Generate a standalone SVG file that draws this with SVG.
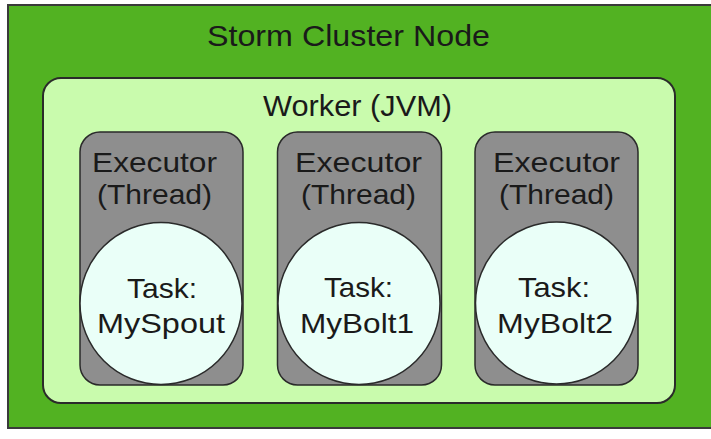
<svg xmlns="http://www.w3.org/2000/svg" width="711" height="439" viewBox="0 0 711 439">
<style>
text{font-family:"Liberation Sans",Arial,sans-serif;fill:#1a1a1a;text-anchor:middle}
.outer{fill:#52b222;stroke:#3a3a3a;stroke-width:2}
.worker{fill:#c9fbad;stroke:#2a2a2a;stroke-width:2}
.exec{fill:#8e8e8e;stroke:#2a2a2a;stroke-width:1.5}
.task{fill:#eafff8;stroke:#2a2a2a;stroke-width:1.5}
.t28{font-size:28px}
</style>
<rect width="711" height="439" fill="#ffffff"/>
<g id="cluster">
<rect class="outer" x="8" y="5" width="712" height="423"/>
<text x="348.5" y="46" font-size="30" textLength="283" lengthAdjust="spacingAndGlyphs">Storm Cluster Node</text>
</g>
<g id="worker">
<rect class="worker" x="43" y="78" width="632" height="325" rx="18"/>
<text x="357.5" y="116" font-size="29" textLength="189" lengthAdjust="spacingAndGlyphs">Worker (JVM)</text>
</g>
<g id="executor1">
<rect class="exec" x="80" y="132" width="163" height="253" rx="20"/>
<text class="t28" x="154.5" y="172" textLength="125" lengthAdjust="spacingAndGlyphs">Executor</text>
<text class="t28" x="154.5" y="204" textLength="115" lengthAdjust="spacingAndGlyphs">(Thread)</text>
</g>
<g id="executor2">
<rect class="exec" x="277.5" y="132" width="164" height="253" rx="20"/>
<text class="t28" x="358.5" y="172" textLength="127" lengthAdjust="spacingAndGlyphs">Executor</text>
<text class="t28" x="358.5" y="204" textLength="115" lengthAdjust="spacingAndGlyphs">(Thread)</text>
</g>
<g id="executor3">
<rect class="exec" x="475" y="132" width="163" height="253" rx="20"/>
<text class="t28" x="556.5" y="172" textLength="127" lengthAdjust="spacingAndGlyphs">Executor</text>
<text class="t28" x="556.5" y="204" textLength="115" lengthAdjust="spacingAndGlyphs">(Thread)</text>
</g>
<g id="task1">
<circle class="task" cx="161" cy="303.5" r="81"/>
<text class="t28" x="162" y="298" textLength="70" lengthAdjust="spacingAndGlyphs">Task:</text>
<text class="t28" x="161" y="333" textLength="128" lengthAdjust="spacingAndGlyphs">MySpout</text>
</g>
<g id="task2">
<circle class="task" cx="359" cy="303.5" r="81"/>
<text class="t28" x="358.5" y="297" textLength="69" lengthAdjust="spacingAndGlyphs">Task:</text>
<text class="t28" x="357" y="333" textLength="114" lengthAdjust="spacingAndGlyphs">MyBolt1</text>
</g>
<g id="task3">
<circle class="task" cx="556.5" cy="303" r="81"/>
<text class="t28" x="554" y="297" textLength="72" lengthAdjust="spacingAndGlyphs">Task:</text>
<text class="t28" x="555" y="333" textLength="116" lengthAdjust="spacingAndGlyphs">MyBolt2</text>
</g>
<g id="connectors"/>
</svg>
